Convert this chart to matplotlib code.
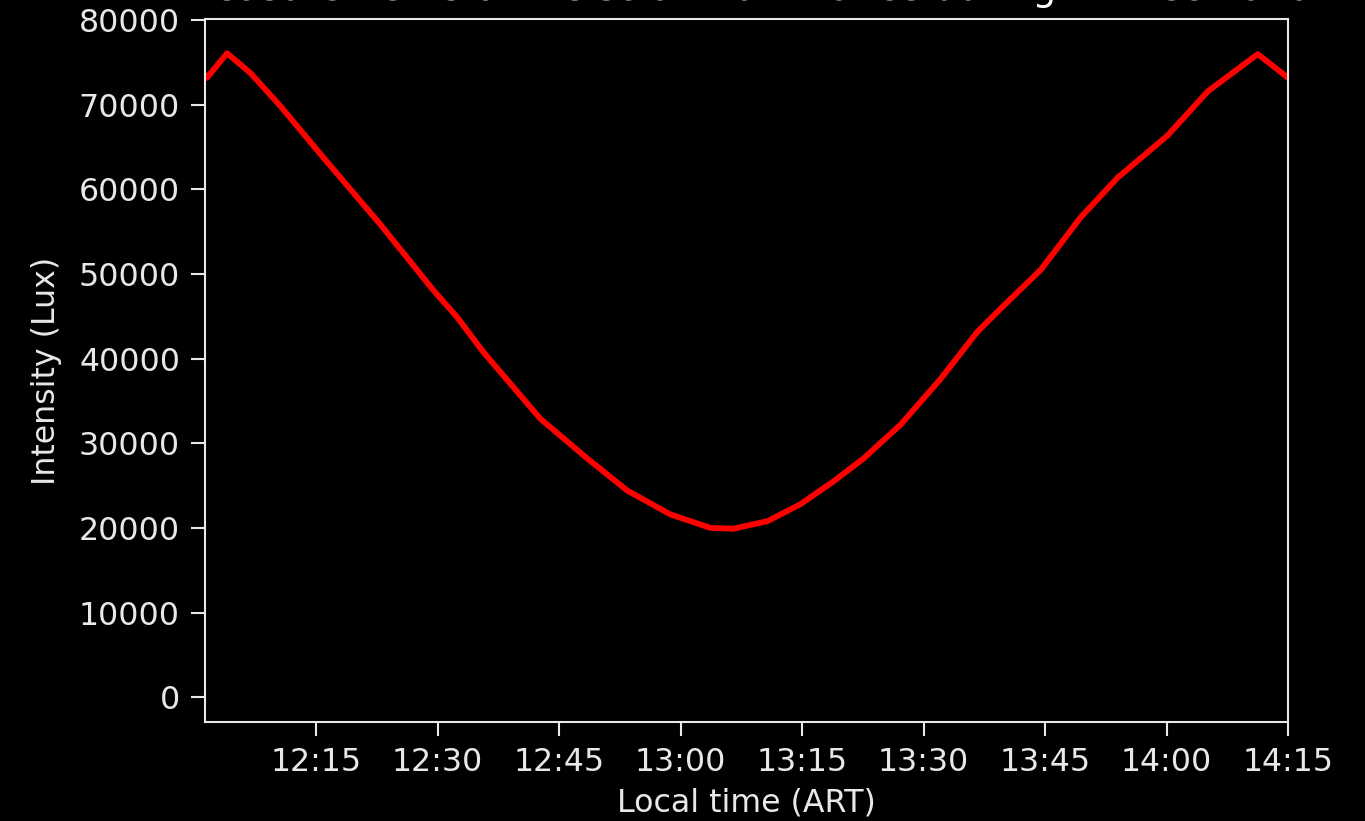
import pandas as pd
import matplotlib
matplotlib.use("Agg")
import matplotlib.pyplot as plt
import matplotlib.dates as mdates

# values (local time, lux)
times = ["12:01:17", "12:01:32", "12:04:00", "12:06:51", "12:10:33", "12:15:52",
         "12:22:54", "12:29:28", "12:32:25", "12:35:38", "12:42:41", "12:48:29",
         "12:53:26", "12:58:44", "13:03:41", "13:06:31", "13:10:44", "13:14:48",
         "13:18:53", "13:22:35", "13:27:10", "13:32:06", "13:36:40", "13:39:30",
         "13:44:28", "13:49:24", "13:53:58", "14:00:09", "14:05:06", "14:11:16",
         "14:15:00"]
lux = [73500, 73200, 76100, 73800, 69900, 63800,
       55900, 48100, 44900, 40800, 32900, 28200,
       24400, 21600, 20000, 19900, 20800, 22800,
       25500, 28200, 32200, 37600, 43200, 45900,
       50500, 56700, 61400, 66400, 71600, 76000,
       73200]

t = pd.to_datetime(["2020-12-14 " + s for s in times])

plt.style.use("dark_background")
plt.rcParams["font.size"] = 22.8

fig = plt.figure(figsize=(13.65, 8.21), dpi=100)
ax = fig.add_axes([0.1502, 0.1206, 0.7934, 0.8563])

ax.plot(t, lux, color="red", linewidth=4.2, solid_joinstyle="round")

ax.set_xlim(t[0], t[-1])
ax.set_ylim(-2940, 80150)
ax.set_yticks(range(0, 80001, 10000))
ax.xaxis.set_major_locator(mdates.MinuteLocator(byminute=[0, 15, 30, 45]))
ax.xaxis.set_major_formatter(mdates.DateFormatter("%H:%M"))
ax.tick_params(length=10, width=1.5, pad=8, colors="#e8e8e8")
for s in ax.spines.values():
    s.set_linewidth(1.5)
    s.set_color("#e8e8e8")

ax.set_xlabel("Local time (ART)", labelpad=7, color="#e8e8e8")
ax.set_ylabel("Intensity (Lux)", labelpad=12, color="#e8e8e8")
ax.set_title("Measurements of the solar illuminance during 14 Dec 2020", pad=13.5)

fig.savefig("out.png", dpi=100)
